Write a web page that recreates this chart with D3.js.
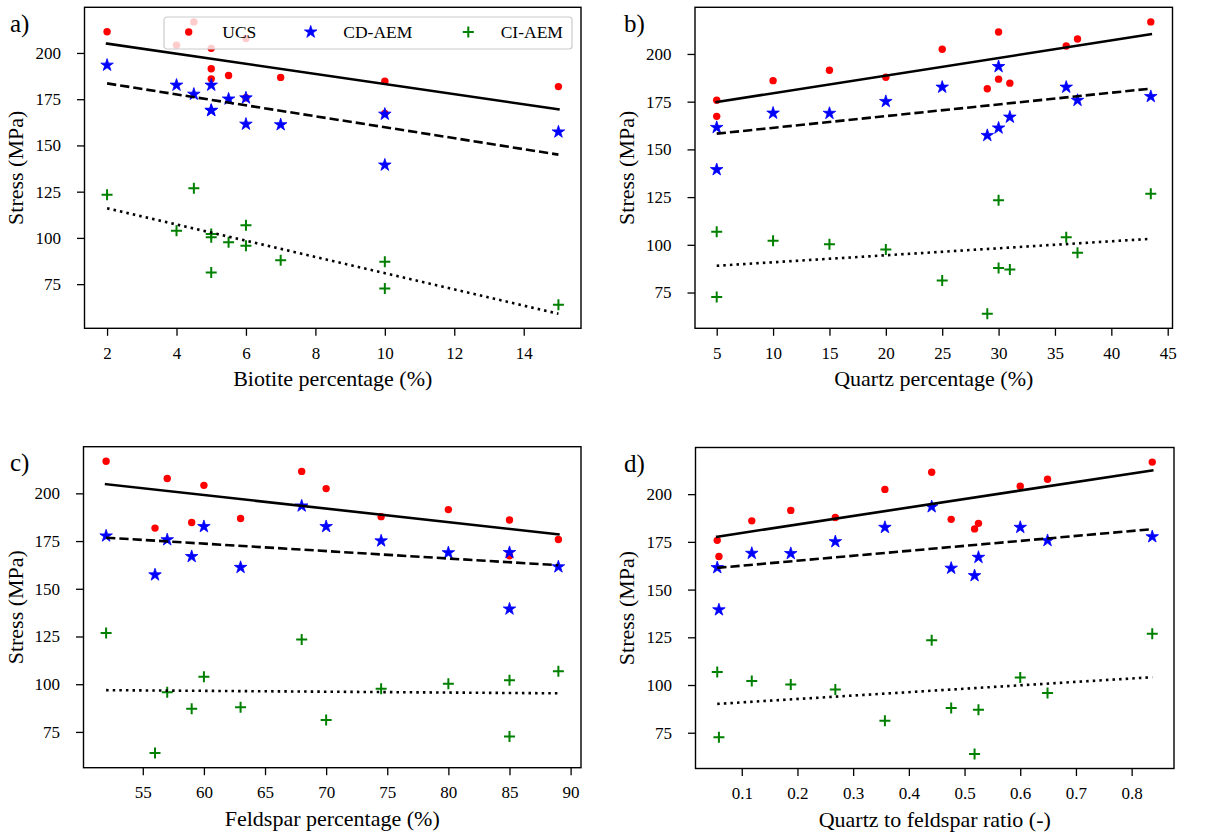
<!DOCTYPE html>
<html>
<head>
<meta charset="utf-8">
<script src="https://cdn.jsdelivr.net/npm/d3@7"></script>
<style>
  html, body { margin: 0; padding: 0; background: #fff; }
  svg { display: block; }
  text { font-family: "Liberation Serif", "Times New Roman", serif; fill: #000; }
</style>
</head>
<body>
<svg id="fig" width="1221" height="836"></svg>
<script>
// Mineral composition of the 13 rock samples (one entry per sample)
const biotite  = [6, 10, 5, 5, 5.5, 5, 2, 7, 15, 10, 4, 6, 4.5];
const quartz   = [5, 5, 10, 15, 20, 25, 30, 30, 29, 31, 36, 37, 43.5];
const feldspar = [89, 85, 85, 80, 74.5, 70, 68, 63, 56, 59, 60, 57, 52];
const qfRatio  = [0.056, 0.059, 0.118, 0.188, 0.268, 0.357, 0.441, 0.476, 0.518, 0.525, 0.600, 0.649, 0.837];

// Measured stresses (MPa)
const ucs   = [175.8, 167.3, 186.0, 191.5, 187.8, 202.5, 211.5, 186.8, 181.8, 184.7, 204.2, 207.8, 216.8];
const cdAem = [161.5, 139.4, 169.0, 168.9, 175.1, 182.6, 193.4, 161.2, 157.3, 166.9, 182.6, 175.7, 177.7];
const ciAem = [106.8, 72.6, 102.1, 100.3, 97.6, 81.3, 123.4, 87.9, 63.9, 87.1, 103.9, 95.8, 126.8];

// Tick labels
const yTicks = [75, 100, 125, 150, 175, 200];
const biotiteTicks  = [2, 4, 6, 8, 10, 12, 14];
const quartzTicks   = [5, 10, 15, 20, 25, 30, 35, 40, 45];
const feldsparTicks = [55, 60, 65, 70, 75, 80, 85, 90];
const ratioTicks    = [0.1, 0.2, 0.3, 0.4, 0.5, 0.6, 0.7, 0.8];

const seriesNames = ["UCS", "CD-AEM", "CI-AEM"];

// panel boxes in page pixels; ylabX / letterX are absolute x positions
const panels = [
  { letter: "a)", xs: biotite,  ticks: biotiteTicks,  fmt: d3.format("d"),   title: "Biotite percentage (%)",       box: { l: 84.5, t: 7.3,   w: 496.5, h: 321 }, ylabX: 23,  letterX: 10,  legend: true },
  { letter: "b)", xs: quartz,   ticks: quartzTicks,   fmt: d3.format("d"),   title: "Quartz percentage (%)",        box: { l: 695,  t: 7.3,   w: 477.5, h: 321 }, ylabX: 634, letterX: 624 },
  { letter: "c)", xs: feldspar, ticks: feldsparTicks, fmt: d3.format("d"),   title: "Feldspar percentage (%)",      box: { l: 83.5, t: 446.7, w: 497.5, h: 321 }, ylabX: 23,  letterX: 10 },
  { letter: "d)", xs: qfRatio,  ticks: ratioTicks,    fmt: d3.format(".1f"), title: "Quartz to feldspar ratio (-)", box: { l: 695.5, t: 447.5, w: 478.5, h: 321 }, ylabX: 634, letterX: 624 }
];

const svg = d3.select("#fig");

function linFit(xs, ys) {
  const mx = d3.mean(xs), my = d3.mean(ys);
  let sxy = 0, sxx = 0;
  xs.forEach((x, i) => { sxy += (x - mx) * (ys[i] - my); sxx += (x - mx) * (x - mx); });
  const b = sxy / sxx;
  return { slope: b, icpt: my - b * mx };
}

function starPath(R) {
  const r = R * 0.381966;
  const pts = [];
  for (let k = 0; k < 10; k++) {
    const a = -Math.PI / 2 + k * Math.PI / 5;
    const rad = k % 2 === 0 ? R : r;
    pts.push([rad * Math.cos(a), rad * Math.sin(a)]);
  }
  return "M" + pts.map(p => p[0].toFixed(2) + "," + p[1].toFixed(2)).join("L") + "Z";
}

const styles = {
  UCS:      { color: "#ff0000", dash: null },
  "CD-AEM": { color: "#0000ff", dash: "9.25,4" },
  "CI-AEM": { color: "#008000", dash: "2.5,4.1" }
};

function drawMarker(g, name, x, y) {
  const c = styles[name].color;
  if (name === "UCS") {
    g.append("circle").attr("cx", x).attr("cy", y).attr("r", 3.7).attr("fill", c);
  } else if (name === "CD-AEM") {
    g.append("path").attr("d", starPath(6.6)).attr("transform", `translate(${x},${y})`)
      .attr("fill", c).attr("stroke", c).attr("stroke-width", 0.8).attr("stroke-linejoin", "round");
  } else {
    g.append("path").attr("d", "M-5.5,0H5.5M0,-5.5V5.5")
      .attr("transform", `translate(${x},${y})`)
      .attr("stroke", c).attr("stroke-width", 2).attr("fill", "none");
  }
}

panels.forEach(p => {
  const seriesVals = [ucs, cdAem, ciAem];
  const fits = seriesVals.map(v => linFit(p.xs, v));
  const [xmin, xmax] = d3.extent(p.xs);

  // autoscale with 5% margins (points plus fit lines)
  const allY = [].concat(...seriesVals);
  fits.forEach(f => { allY.push(f.icpt + f.slope * xmin, f.icpt + f.slope * xmax); });
  const [ylo, yhi] = d3.extent(allY);
  const xpad = (xmax - xmin) * 0.05, ypad = (yhi - ylo) * 0.05;

  const b = p.box;
  const x = d3.scaleLinear().domain([xmin - xpad, xmax + xpad]).range([0, b.w]);
  const y = d3.scaleLinear().domain([ylo - ypad, yhi + ypad]).range([b.h, 0]);

  const g = svg.append("g").attr("transform", `translate(${b.l},${b.t})`);
  const clipId = "clip-" + p.letter[0];
  g.append("clipPath").attr("id", clipId).append("rect").attr("width", b.w).attr("height", b.h);

  const plot = g.append("g").attr("clip-path", `url(#${clipId})`);

  // scatter points, drawn series by series
  seriesNames.forEach((name, si) => {
    const layer = plot.append("g");
    seriesVals[si].forEach((v, i) => drawMarker(layer, name, x(p.xs[i]), y(v)));
  });

  // linear fits
  const line = d3.line().x(d => x(d[0])).y(d => y(d[1]));
  seriesNames.forEach((name, si) => {
    const f = fits[si];
    const pts = [[xmin, f.icpt + f.slope * xmin], [xmax, f.icpt + f.slope * xmax]];
    const path = plot.append("path").attr("d", line(pts))
      .attr("fill", "none").attr("stroke", "#000").attr("stroke-width", 2.6);
    if (styles[name].dash) path.attr("stroke-dasharray", styles[name].dash);
    else path.attr("stroke-linecap", "square");
  });

  // axes
  const xAxis = d3.axisBottom(x).tickValues(p.ticks).tickFormat(p.fmt).tickSizeOuter(0).tickSize(7.5).tickPadding(11);
  const yAxis = d3.axisLeft(y).tickValues(yTicks).tickFormat(d3.format("d")).tickSizeOuter(0).tickSize(7.5).tickPadding(16);

  const gx = g.append("g").attr("transform", `translate(0,${b.h})`).call(xAxis);
  const gy = g.append("g").call(yAxis);
  [gx, gy].forEach(ax => {
    ax.select(".domain").remove();
    ax.selectAll(".tick line").attr("stroke", "#000").attr("stroke-width", 1.3);
    ax.selectAll(".tick text").attr("font-size", 17).attr("font-family", "Liberation Serif").attr("fill", "#000");
  });

  // frame
  g.append("rect").attr("width", b.w).attr("height", b.h)
    .attr("fill", "none").attr("stroke", "#000").attr("stroke-width", 1.4);

  // axis titles
  g.append("text").attr("x", b.w / 2).attr("y", b.h + 58).attr("text-anchor", "middle")
    .attr("font-size", 22).text(p.title);
  g.append("text").attr("transform", `translate(${p.ylabX - b.l},${b.h / 2}) rotate(-90)`)
    .attr("text-anchor", "middle").attr("font-size", 22).text("Stress (MPa)");

  // panel letter
  g.append("text").attr("x", p.letterX - b.l).attr("y", 24.5)
    .attr("font-size", 25).text(p.letter);

  if (p.legend) {
    const lg = g.append("g").attr("transform", "translate(79.5,9.7)");
    lg.append("rect").attr("width", 408).attr("height", 32).attr("rx", 3)
      .attr("fill", "#fff").attr("fill-opacity", 0.8)
      .attr("stroke", "#cccccc").attr("stroke-width", 1.2);
    const mx = [24.7, 146.7, 304.3];
    const tx = [58.3, 179.3, 336.7];
    seriesNames.forEach((name, i) => {
      drawMarker(lg, name, mx[i], 15);
      lg.append("text").attr("x", tx[i]).attr("y", 21).attr("font-size", 17.5).text(name);
    });
  }
});
</script>
</body>
</html>
